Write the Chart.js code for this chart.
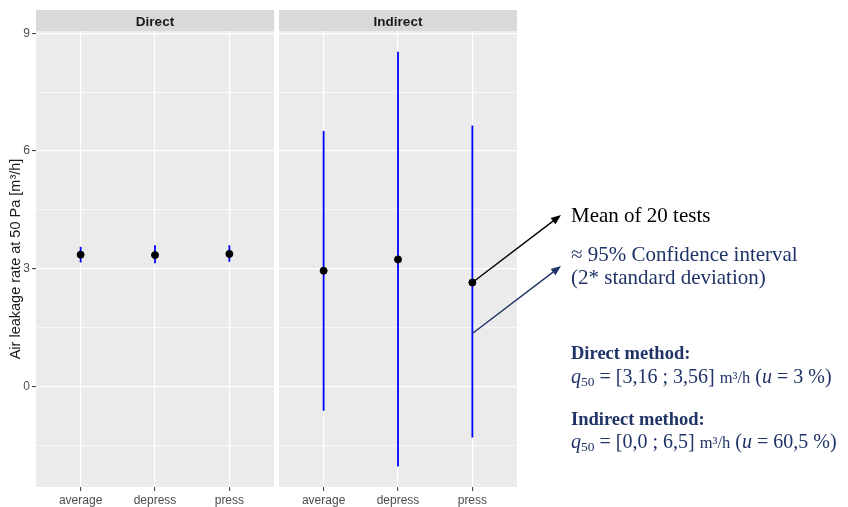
<!DOCTYPE html>
<html>
<head>
<meta charset="utf-8">
<script src="https://cdn.jsdelivr.net/npm/chart.js@4.4.0/dist/chart.umd.min.js"></script>
<style>
  body { margin: 0; background: #fff; }
  #wrap { position: relative; width: 848px; height: 507px; overflow: hidden; }
  #leftChart { position: absolute; left: 0; top: 0; }
  #rightChart { position: absolute; left: 277px; top: 0; }
  .note { position: absolute; left: 571px; font-family: "Liberation Serif", serif; white-space: nowrap; color: #1f3366; }
  .big { font-size: 21px; line-height: 23px; }
  .bold { font-size: 18.5px; font-weight: bold; line-height: 22px; }
  .math { font-size: 20px; line-height: 22px; }
  .math sub { font-size: 13.5px; vertical-align: -3px; }
  .unit { font-size: 16.5px; }
</style>
</head>
<body>
<div id="wrap">
  <canvas id="leftChart" width="276" height="507"></canvas>
  <canvas id="rightChart" width="571" height="507"></canvas>
  <div class="note big" id="noteMean" style="top:204px; color:#000;">Mean of 20 tests</div>
  <div class="note big" id="noteCI" style="top:243px;">≈ 95% Confidence interval<br>(2* standard deviation)</div>
  <div class="note bold" style="top:342px;">Direct method:</div>
  <div class="note math" style="top:365px;"><i>q</i><sub>50</sub> = [3,16 ; 3,56] <span class="unit">m³/h</span> (<i>u</i> = 3 %)</div>
  <div class="note bold" style="top:408px;">Indirect method:</div>
  <div class="note math" style="top:430px;"><i>q</i><sub>50</sub> = [0,0 ; 6,5] <span class="unit">m³/h</span> (<i>u</i> = 60,5 %)</div>
</div>
<script>
// categories and facet panels
const categories = ["average", "depress", "press"];
const panels = ["Direct", "Indirect"];

// mean of 20 tests and the +/- 2 sd interval
const directMean = [3.36, 3.35, 3.38];
const directLow = [3.16, 3.14, 3.18];
const directHigh = [3.56, 3.60, 3.60];
const indirectMean = [2.95, 3.24, 2.65];
const indirectLow = [-0.62, -2.04, -1.30];
const indirectHigh = [6.51, 8.53, 6.65];

// y axis
const yMajor = [0, 3, 6, 9];
const yMinor = [-1.5, 1.5, 4.5, 7.5];
const yRange = [-2.56, 9.06];
const ciAnchor = 1.35; // where the CI arrow leaves the press bar

const axisFont = { family: "Liberation Sans", size: 12 };
const isMajor = (v) => yMajor.includes(v);

const panelBg = {
  id: "panelBg",
  beforeDraw(chart) {
    const { ctx, chartArea: a } = chart;
    ctx.save();
    ctx.fillStyle = "#ebebeb";
    ctx.fillRect(a.left, a.top, a.right - a.left, a.bottom - a.top);
    ctx.fillStyle = "#d9d9d9";
    ctx.fillRect(a.left, a.top - 21, a.right - a.left, 21);
    ctx.restore();
  },
};

function drawArrow(ctx, x1, y1, x2, y2, color) {
  const ang = Math.atan2(y2 - y1, x2 - x1);
  const len = 10, half = 4;
  ctx.save();
  ctx.strokeStyle = color;
  ctx.fillStyle = color;
  ctx.lineWidth = 1.4;
  ctx.beginPath();
  ctx.moveTo(x1, y1);
  ctx.lineTo(x2 - Math.cos(ang) * len * 0.8, y2 - Math.sin(ang) * len * 0.8);
  ctx.stroke();
  ctx.beginPath();
  ctx.moveTo(x2, y2);
  ctx.lineTo(x2 - len * Math.cos(ang) + half * Math.sin(ang), y2 - len * Math.sin(ang) - half * Math.cos(ang));
  ctx.lineTo(x2 - len * Math.cos(ang) - half * Math.sin(ang), y2 - len * Math.sin(ang) + half * Math.cos(ang));
  ctx.closePath();
  ctx.fill();
  ctx.restore();
}

const arrows = {
  id: "arrows",
  afterDraw(chart) {
    const { ctx, scales } = chart;
    const canvasLeft = chart.canvas.offsetLeft;
    const px = scales.x.getPixelForValue(3);
    const mean = document.getElementById("noteMean");
    const ci = document.getElementById("noteCI");
    const endX = mean.offsetLeft - canvasLeft - 10;
    drawArrow(ctx, px, scales.y.getPixelForValue(indirectMean[2]), endX, mean.offsetTop + 11, "#000");
    drawArrow(ctx, px, scales.y.getPixelForValue(ciAnchor), endX, ci.offsetTop + ci.offsetHeight / 2, "#1f3366");
  },
};

function makeChart(id, title, mean, low, high, isLeft) {
  const bars = categories.map((c, i) => ({
    data: [{ x: i + 1, y: low[i] }, { x: i + 1, y: high[i] }],
    showLine: true,
    borderColor: "#0000ff",
    borderWidth: 1.8,
    pointRadius: 0,
    order: 1,
  }));
  const points = {
    data: mean.map((v, i) => ({ x: i + 1, y: v })),
    backgroundColor: "#000",
    borderColor: "#000",
    pointRadius: 3.5,
    order: 0,
  };

  return new Chart(document.getElementById(id), {
    type: "scatter",
    data: { datasets: [points, ...bars] },
    plugins: isLeft ? [panelBg] : [panelBg, arrows],
    options: {
      responsive: false,
      animation: false,
      layout: {
        autoPadding: false,
        padding: isLeft ? { top: 10, right: 2, left: 0, bottom: 0 } : { top: 10, left: 2, right: 331, bottom: 0 },
      },
      plugins: {
        legend: { display: false },
        tooltip: { enabled: false },
        title: {
          display: true,
          text: title,
          fullSize: false,
          color: "#1a1a1a",
          font: { family: "Liberation Sans", size: 13.5, weight: "bold" },
          padding: { top: 4, bottom: 0.8 },
        },
      },
      scales: {
        x: {
          type: "linear",
          min: 0.4,
          max: 3.6,
          afterBuildTicks: (s) => { s.ticks = categories.map((c, i) => ({ value: i + 1 })); },
          afterFit: (s) => { s.height = 20; },
          ticks: {
            callback: (v) => categories[Math.round(v) - 1],
            autoSkip: false,
            maxRotation: 0,
            color: "#4d4d4d",
            font: axisFont,
            padding: 2,
          },
          grid: { color: "#fff", lineWidth: 1.2, tickLength: 4, tickColor: "#333", tickWidth: 1 },
          border: { display: false },
        },
        y: {
          min: yRange[0],
          max: yRange[1],
          afterBuildTicks: (s) => { s.ticks = [...yMinor, ...yMajor].sort((a, b) => a - b).map((v) => ({ value: v })); },
          afterFit: (s) => { s.width = isLeft ? 36 : 0; },
          ticks: {
            display: isLeft,
            callback: (v) => (isMajor(v) ? String(v) : ""),
            color: "#4d4d4d",
            font: axisFont,
            padding: 2,
          },
          grid: {
            color: "#fff",
            lineWidth: (c) => (isMajor(c.tick.value) ? 1.2 : 0.6),
            drawTicks: isLeft,
            tickLength: 4,
            tickWidth: 1,
            tickColor: (c) => (isMajor(c.tick.value) ? "#333" : "rgba(0,0,0,0)"),
          },
          border: { display: false },
          title: {
            display: isLeft,
            text: "Air leakage rate at 50 Pa [m³/h]",
            color: "#1a1a1a",
            font: { family: "Liberation Sans", size: 14.5 },
            padding: { top: 7 },
          },
        },
      },
    },
  });
}

makeChart("leftChart", panels[0], directMean, directLow, directHigh, true);
makeChart("rightChart", panels[1], indirectMean, indirectLow, indirectHigh, false);
</script>
</body>
</html>
